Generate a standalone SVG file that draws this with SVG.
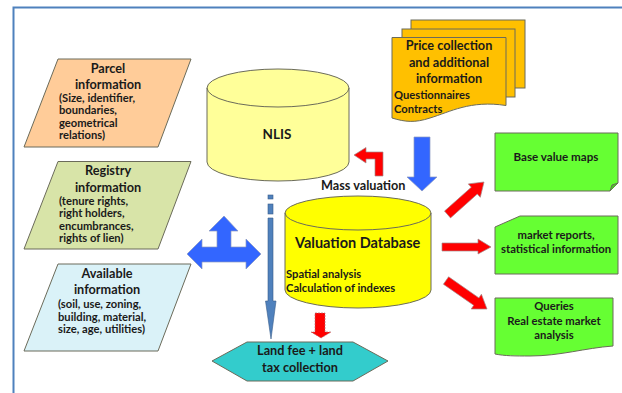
<svg xmlns="http://www.w3.org/2000/svg" width="622" height="393" viewBox="0 0 622 393">
<style>
text{font-family:"Lato","Carlito","Liberation Sans",sans-serif;font-weight:700;fill:#1a1a1a}
.h{font-size:12.7px;text-anchor:middle}
.s{font-size:11.2px}
.c{font-size:11.3px;text-anchor:middle}
.o{stroke:#6b6b5a;stroke-width:1}
.red{fill:#ff0000;stroke:#a08a8a;stroke-width:.7}
.blue{fill:#3366ff;stroke:#8a98c0;stroke-width:.7}
.steel{fill:#4f81bd;stroke:#385d8a;stroke-width:.6}
</style>
<rect width="622" height="393" fill="#fff"/>
<path d="M622,7.500H13.500V393" fill="none" stroke="#4f81bd" stroke-width="2"/>
<g id="connectors">
<path class="red" d="M354,155 366,147.500V152H383V176H375V159H366V163Z"/>
<path class="blue" d="M414,137H430V177H437L422,191 407,177H414Z"/>
<path class="blue" d="M187,254 202,239V247H217V231H209L224,216 238,231H231V247H246V239L261,254 246,269V262H202V269Z"/>
<rect class="steel" x="268" y="195" width="5" height="4"/>
<rect class="steel" x="268" y="204" width="5" height="10"/>
<path class="steel" d="M268,218H273V301H276L271,339 265.500,301H268Z"/>
<path d="M315,313H325V332H331L321,338 311,332H315Z" fill="#ff0000" stroke="#b07070" stroke-width=".7" stroke-dasharray="2 1"/>
<path class="red" d="M444.500,211.100 471.300,187.200 468.300,183.900 484,182 480.300,197.300 477.300,194 450.500,217.900Z"/>
<path class="red" d="M442,243H478V239L491,247 478,254V251H442Z"/>
<path class="red" d="M448.600,276.800 478.900,297.900 481.400,294.200 487,309 471.200,309 473.700,305.300 443.400,284.200Z"/>
</g>
<g id="parcel">
<path class="o" d="M58,59H191L158,147H24Z" fill="#ffcc99"/>
<text class="h" x="108" y="72.500">Parcel</text>
<text class="h" x="108" y="89">information</text>
<text class="s" x="59" y="101.500">(Size, identifier,</text>
<text class="s" x="59" y="114">boundaries,</text>
<text class="s" x="59" y="127">geometrical</text>
<text class="s" x="59" y="139">relations)</text>
</g>
<g id="registry">
<path class="o" d="M58,161.500H191L158,249H24Z" fill="#d8e4a8"/>
<text class="h" x="108" y="175">Registry</text>
<text class="h" x="108" y="192">information</text>
<text class="s" x="59" y="205">(tenure rights,</text>
<text class="s" x="59" y="217">right holders,</text>
<text class="s" x="59" y="230">encumbrances,</text>
<text class="s" x="59" y="242">rights of lien)</text>
</g>
<g id="available">
<path class="o" d="M58,264H191L158,351H24Z" fill="#daf2f8"/>
<text class="h" x="107" y="278">Available</text>
<text class="h" x="107" y="294">information</text>
<text class="s" x="58" y="308">(soil, use, zoning,</text>
<text class="s" x="58" y="320.500">building, material,</text>
<text class="s" x="58" y="333">size, age, utilities)</text>
</g>
<g id="nlis">
<path class="o" d="M207,88A71,19 0 0 1 349,88V162A71,19 0 0 1 207,162Z" fill="#ffff99"/>
<path class="o" d="M207,88A71,19 0 0 0 349,88" fill="none"/>
<text x="277" y="139" text-anchor="middle" font-size="13.500">NLIS</text>
</g>
<g id="price">
<rect class="o" x="411" y="20" width="114" height="68" fill="#ffc000"/>
<rect class="o" x="402" y="29" width="113" height="68" fill="#ffc000"/>
<path class="o" d="M392,37.500H506V105.500C470,100 450,112 430,118C415,123 405,122 392,118Z" fill="#ffc000"/>
<text class="h" x="449" y="50">Price collection</text>
<text class="h" x="449" y="67">and additional</text>
<text class="h" x="449" y="83">information</text>
<text class="s" x="394" y="99">Questionnaires</text>
<text class="s" x="394" y="113">Contracts</text>
</g>
<g id="mass-valuation">
<text x="321" y="190" font-size="12.700">Mass valuation</text>
</g>
<g id="database">
<path class="o" d="M285,213A73,17 0 0 1 431,213V290A73,18 0 0 1 285,290Z" fill="#ffff00"/>
<path class="o" d="M285,213A73,17 0 0 0 431,213" fill="none"/>
<text x="295" y="248" font-size="14.500">Valuation Database</text>
<text class="s" x="286" y="278">Spatial analysis</text>
<text class="s" x="286" y="292">Calculation of indexes</text>
</g>
<g id="land-fee">
<path class="o" d="M212,361 247,342H353L388,361 353,381H247Z" fill="#33cccc"/>
<text class="h" x="300" y="355">Land fee + land</text>
<text class="h" x="300" y="372">tax collection</text>
</g>
<g id="base-value">
<path class="o" d="M495,133H618V183L610,191H495Z" fill="#66ff33"/>
<path class="o" d="M618,183 612,185 610,191" fill="#4fc428"/>
<text class="c" x="556" y="161" style="font-size:11.600px">Base value maps</text>
</g>
<g id="market">
<path class="o" d="M495,227 520,216H618V274H495Z" fill="#66ff33"/>
<text class="c" x="556" y="239">market reports,</text>
<text class="c" x="556" y="253">statistical information</text>
</g>
<g id="queries">
<path class="o" d="M495,298H613V346C585,348 560,356 530,356C515,356 505,356 495,354Z" fill="#66ff33"/>
<text class="c" x="554" y="310">Queries</text>
<text class="c" x="554" y="325">Real estate market</text>
<text class="c" x="554" y="339">analysis</text>
</g>
</svg>
